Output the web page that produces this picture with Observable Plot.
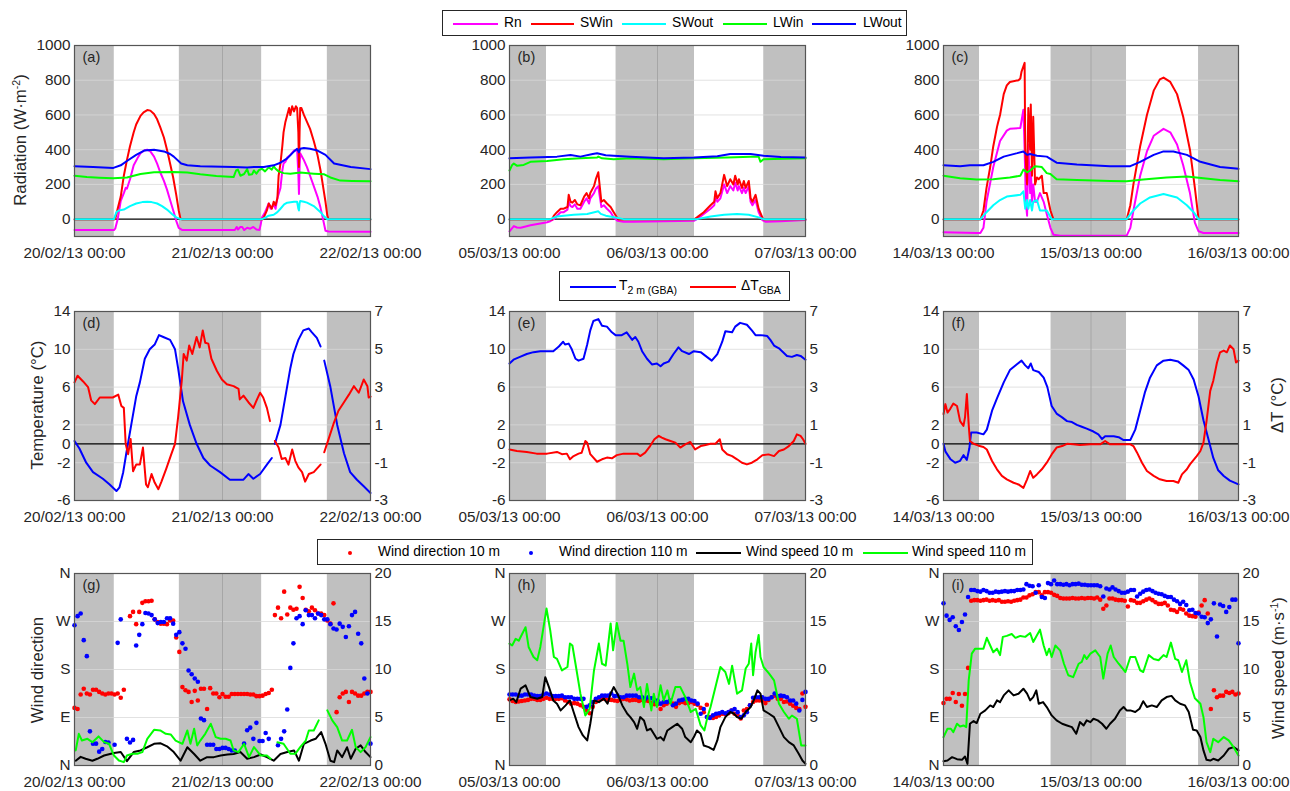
<!DOCTYPE html>
<html><head><meta charset="utf-8">
<script src="https://cdn.jsdelivr.net/npm/d3@7"></script>
<script src="https://cdn.jsdelivr.net/npm/@observablehq/plot@0.6"></script>
<style>
body{margin:0;background:#fff;font-family:"Liberation Sans",Arial,Helvetica,sans-serif;}
#wrap{position:relative;width:1290px;height:791px;overflow:hidden;background:#fff;}
.legend{position:absolute;border:1px solid #262626;background:#fff;box-sizing:border-box;font-size:13.8px;color:#000;}
.legend span{position:absolute;white-space:nowrap;line-height:1;}
.sw{position:absolute;height:2px;}
.dt{position:absolute;width:4px;height:4px;border-radius:50%;}
.ytitle{position:absolute;font-size:16.8px;line-height:1;color:#262626;white-space:nowrap;transform:translate(-50%,-50%) rotate(-90deg);}
sub{font-size:10.5px;vertical-align:-4px;line-height:0;}
sup{font-size:10.5px;vertical-align:6px;line-height:0;}
</style></head>
<body><div id="wrap"></div>
<script>
// ---------- tick labels / categories ----------
const dateLabels1 = ["20/02/13 00:00","21/02/13 00:00","22/02/13 00:00"];
const dateLabels2 = ["05/03/13 00:00","06/03/13 00:00","07/03/13 00:00"];
const dateLabels3 = ["14/03/13 00:00","15/03/13 00:00","16/03/13 00:00"];
const dirLabels = ["N","E","S","W","N"];
const radNames = ["Rn","SWin","SWout","LWin","LWout"];
const tempNames = ["T","ΔT"];
const windNames = ["Wind direction 10 m","Wind direction 110 m","Wind speed 10 m","Wind speed 110 m"];
// night periods (hours from start of each 48 h window)
const nights1 = [[0,6.45],[17.0,30.35],[41.0,48]];
const nights2 = [[0,6.0],[17.28,30.0],[41.23,48]];
const nights3 = [[0,5.86],[17.5,29.78],[41.5,48]];

// ---------- panel (a): radiation 20-22/02 [hour, W m-2] ----------
const a_Rn = [[0,-63],[6.4,-63],[6.6,-55],[7,0],[7.5,105],[8,150],[8.3,180],[8.5,175],[9,230],[9.6,310],[10.2,350],[10.7,380],[11.3,395],[11.8,400],[12.3,390],[12.9,360],[13.4,320],[13.9,270],[14.5,220],[15,170],[15.5,110],[16.1,40],[16.5,-10],[16.9,-50],[17.5,-63],[26,-63],[26.3,-45],[26.5,-60],[26.9,-45],[27.2,-45],[27.5,-63],[28,-50],[28.5,-55],[29,-45],[29.5,-60],[30,-62],[30.2,-30],[30.4,10],[30.9,40],[31.2,65],[31.5,90],[31.8,60],[32.3,85],[32.6,60],[32.9,120],[33.4,180],[33.7,280],[33.9,320],[34.2,330],[34.5,355],[35,370],[35.6,395],[36.1,400],[36.3,260],[36.4,145],[36.5,300],[36.6,380],[37.2,340],[37.7,300],[38.2,250],[38.8,190],[39.4,130],[39.9,65],[40.3,0],[40.7,-67],[41.2,-71],[48,-72]];
const a_SWin = [[0,-2],[6.4,-2],[6.6,0],[7,60],[7.5,130],[8,250],[8.5,340],[9,420],[9.6,500],[10,545],[10.7,595],[11.2,615],[11.8,628],[12.3,625],[12.9,605],[13.4,575],[13.9,530],[14.5,470],[15,400],[15.5,320],[16,240],[16.5,140],[16.9,50],[17.2,0],[17.5,-2],[30.4,-2],[30.7,10],[31.2,50],[31.5,90],[32,60],[32.3,100],[32.6,80],[32.9,120],[33.1,250],[33.4,320],[33.7,420],[33.9,500],[34.2,560],[34.5,600],[34.8,640],[35,600],[35.3,650],[35.6,620],[35.9,650],[36.1,640],[36.3,500],[36.4,300],[36.5,500],[36.6,640],[36.8,640],[37.2,600],[37.7,560],[38.2,520],[38.8,450],[39.4,370],[39.9,280],[40.3,190],[40.7,100],[41,20],[41.2,-2],[48,-2]];
const a_SWout = [[0,0],[6.4,0],[6.8,40],[7.2,50],[8,55],[9,75],[10,90],[11,98],[11.8,100],[12.5,98],[13.4,90],[14.2,75],[15,55],[15.8,30],[16.5,10],[17.2,0],[30.4,0],[31,10],[31.5,20],[32.3,25],[32.9,40],[33.4,60],[34,85],[34.5,95],[35.6,100],[36.1,100],[36.3,60],[36.4,50],[36.5,90],[36.6,105],[37.2,100],[37.7,95],[38.8,75],[39.9,40],[40.5,15],[41,0],[48,0]];
const a_LWin = [[0,250],[2,242],[4,238],[6.3,235],[8.5,240],[10.7,260],[12.9,270],[16,272],[18.3,268],[20.4,258],[23,248],[25.8,242],[26.2,280],[26.5,285],[26.9,250],[27.5,260],[28,288],[28.3,255],[28.8,258],[29.1,280],[29.5,262],[29.9,282],[30.4,290],[30.9,275],[31.5,298],[32,285],[32.3,305],[32.6,290],[33.1,275],[33.9,265],[35,262],[36.6,268],[38.8,262],[40.5,258],[41.5,240],[43.1,222],[45,220],[48,218]];
const a_LWout = [[0,305],[3,300],[6.3,295],[7.5,310],[8.5,335],[10,370],[11.3,395],[12.9,400],[14.5,390],[15.5,375],[16.1,360],[17.3,320],[18.3,310],[20.4,305],[25.8,300],[28,298],[29.1,300],[30.7,300],[32.3,310],[33.4,325],[34.5,350],[35.6,390],[36.1,405],[36.4,385],[36.6,405],[37.2,410],[38.2,405],[39.4,395],[40.7,370],[42.1,320],[44.8,300],[48,288]];

// ---------- panel (b): radiation 05-07/03 ----------
const b_Rn = [[0,-70],[0.7,-40],[1.2,-48],[1.8,-50],[2.3,-45],[3.4,-35],[5,-25],[6.1,-18],[6.6,-12],[7.2,0],[7.7,20],[8.3,40],[8.8,40],[9.4,55],[9.6,100],[9.9,75],[10.2,70],[10.6,85],[11,60],[11.5,60],[12.1,100],[12.5,120],[12.9,90],[13.1,120],[13.7,150],[14,175],[14.4,190],[14.6,140],[14.9,70],[15.3,80],[15.8,60],[16.4,40],[16.9,10],[17.5,-10],[18.5,-15],[20,-15],[25,-12],[29.9,-10],[30.4,0],[31.5,30],[32.6,60],[33.2,80],[33.4,130],[33.7,100],[34.2,120],[34.8,200],[35.3,150],[35.8,190],[36.3,165],[36.6,210],[37,165],[37.2,190],[37.7,150],[38,180],[38.3,150],[38.8,190],[39.1,100],[39.4,80],[39.9,110],[40.4,40],[41,-5],[41.5,-15],[44,-12],[48,-5]];
const b_SWin = [[0,-2],[6.9,-2],[7.2,20],[7.7,40],[8.3,60],[8.8,60],[9.4,70],[9.6,140],[9.9,100],[10.2,95],[10.6,110],[11,85],[11.5,80],[12.1,130],[12.5,150],[12.9,120],[13.1,150],[13.7,190],[14,230],[14.4,270],[14.6,200],[14.9,100],[15.3,110],[15.8,90],[16.4,70],[16.9,40],[17.5,5],[17.7,-2],[29.9,-2],[30.4,10],[31.5,40],[32.6,80],[33.2,100],[33.4,160],[33.7,120],[34.2,150],[34.8,255],[35.3,190],[35.8,230],[36.3,200],[36.6,250],[37,200],[37.2,230],[37.7,180],[38,220],[38.3,180],[38.8,220],[39.1,120],[39.4,100],[39.9,140],[40.4,60],[41,10],[41.2,-2],[48,-2]];
const b_SWout = [[0,0],[6.6,0],[7.7,15],[8.8,20],[10.4,25],[12.6,30],[14.4,45],[14.8,30],[15.6,20],[17.2,10],[18.5,0],[30.4,0],[32.6,15],[34.8,25],[36.9,30],[38.8,25],[40.4,10],[41.2,0],[48,0]];
const b_LWin = [[0,280],[0.4,310],[0.7,320],[1.2,308],[2.3,312],[3.4,330],[6.1,335],[8.8,345],[11.5,350],[14.2,355],[14.4,360],[15,350],[16.9,345],[19.6,350],[25,345],[29.9,350],[35.3,355],[39.1,360],[40.4,360],[40.7,330],[41.2,345],[48,350]];
const b_LWout = [[0,350],[3.4,355],[7.7,360],[9.9,370],[11.5,360],[13.5,375],[14.2,380],[15.6,368],[16.9,365],[19.6,360],[25,350],[29.9,355],[33.7,362],[35.8,375],[39.1,375],[41.2,365],[44,358],[48,355]];

// ---------- panel (c): radiation 14-16/03 ----------
const c_Rn = [[0,-75],[5.4,-80],[6,-80],[6.5,-50],[7,100],[8.1,300],[9.2,450],[10.3,510],[10.8,520],[12.5,525],[13,630],[13.2,400],[13.4,100],[13.6,20],[13.8,430],[14.1,150],[14.2,300],[14.4,100],[14.6,200],[14.9,100],[15.2,100],[15.7,150],[16.3,100],[16.8,30],[17.4,-50],[17.9,-90],[19,-95],[29.8,-95],[30.4,-50],[30.9,50],[32,250],[33.1,390],[34.2,480],[35.8,520],[36.9,500],[38,430],[39,310],[40.1,150],[40.9,-20],[41.5,-70],[42.3,-80],[48,-80]];
const c_SWin = [[0,-2],[6,-2],[6.5,50],[7,180],[7.6,300],[8.1,420],[8.7,530],[8.9,560],[9.2,600],[9.8,720],[10.3,770],[10.8,790],[12.2,800],[12.5,810],[12.7,850],[13,880],[13.2,900],[13.3,400],[13.6,200],[13.8,640],[14.1,400],[14.2,660],[14.4,250],[14.6,590],[14.9,200],[15.2,240],[15.5,230],[16,250],[16.3,150],[16.8,150],[17.4,50],[17.9,-2],[29.8,-2],[30.4,80],[30.9,200],[32,420],[33.1,600],[34.2,740],[35.2,805],[35.8,815],[36.9,790],[38,720],[39,590],[40.1,400],[40.9,180],[41.5,0],[41.8,-2],[48,-2]];
const c_SWout = [[0,0],[6,0],[7,40],[8.1,80],[9.2,110],[10.3,130],[12.5,140],[13,160],[13.3,60],[13.6,110],[13.8,60],[14.1,110],[14.4,50],[14.6,100],[15.2,110],[15.7,50],[16.8,50],[17.6,0],[29.8,0],[30.9,50],[32,90],[33.6,125],[35.8,145],[38,125],[39.6,80],[40.7,40],[41.5,0],[48,0]];
const c_LWin = [[0,250],[2.7,235],[5.4,228],[8.1,230],[10.8,240],[12.5,250],[13,285],[13.6,270],[14.1,280],[14.9,305],[16,300],[16.8,265],[17.4,260],[18.4,230],[21.7,225],[27.1,220],[29.8,218],[32.5,228],[36.3,240],[39.6,245],[42.3,235],[45,225],[48,218]];
const c_LWout = [[0,310],[2.7,305],[4.3,310],[6.5,310],[8.1,330],[9.8,360],[12,380],[13,390],[13.6,370],[14.1,375],[15.2,365],[16.8,360],[18.4,325],[21.7,315],[27.1,305],[30.4,305],[32,330],[34.2,370],[35.8,390],[37.4,390],[39.6,370],[41.8,330],[45,300],[48,290]];

// ---------- panels (d)-(f): T 2 m (°C) and ΔT (°C) ----------
const d_T = [[0,0.3],[0.8,-0.5],[1.9,-2],[3,-3],[4.6,-3.7],[5.7,-4.3],[6.8,-5],[7.3,-4.6],[7.9,-3],[8.4,-1],[9.2,2],[10,5],[10.6,6.5],[11.4,9],[12.2,10],[13,10.5],[13.7,11.5],[14.4,11.3],[15.5,11],[16.3,10],[16.8,8],[17.6,4.5],[18.7,2],[19.8,0],[20.9,-1.5],[22,-2.3],[23.6,-3],[25.2,-3.8],[26.3,-3.8],[27.4,-3.8],[28.2,-3.2],[29,-3.7],[30.1,-3.2],[31.2,-2.2],[32,-1.5],[32.2,null],[32.5,0],[33.4,2],[34.2,5],[35,8],[35.5,9.5],[36.3,11],[37.1,12],[38,12.2],[38.5,11.8],[39.3,11.2],[39.9,10.3],[40.2,null],[40.5,8.8],[41.5,6],[42.6,2],[43.7,-1],[44.7,-3],[45.8,-3.8],[46.9,-4.5],[48,-5.2]];
const d_dT = [[0,3.25],[0.5,3.6],[1.4,3.3],[2.2,3.0],[2.7,2.3],[3.3,2.1],[4.1,2.45],[5.2,2.45],[6.2,2.45],[7.1,2.6],[7.6,2.0],[8.0,1.9],[8.3,0],[8.7,-0.55],[9.1,0.25],[9.5,-1.45],[10,-1.1],[10.6,-1.1],[11.1,-0.2],[11.6,-2.15],[11.9,-2.3],[12.5,-1.6],[13,-2.05],[13.6,-2.4],[14.1,-2.0],[14.9,-1.3],[15.7,-0.55],[16.3,0],[16.8,1.4],[17.4,3.35],[17.7,4.75],[18.2,4.4],[18.6,5.2],[19.1,4.75],[19.8,5.65],[20.3,5.1],[20.8,6.0],[21.2,5.35],[21.7,5.3],[22.2,4.5],[23.1,3.85],[23.9,3.4],[24.7,3.15],[25.8,3.05],[26.6,2.9],[26.8,2.35],[27.4,2.55],[28.2,2.2],[29,1.9],[29.6,2.35],[30.1,2.7],[30.6,2.45],[31.2,1.9],[31.7,1.2],[32.1,null],[32.5,0.15],[33.1,-0.2],[33.6,-0.8],[34.2,-0.75],[34.7,-1.1],[35.3,-0.3],[35.8,-0.9],[36.3,-1.25],[36.9,-1.5],[37.4,-2.0],[38,-1.6],[38.8,-1.5],[39.9,-1.1],[40.2,null],[40.5,-0.45],[41.2,0.25],[42,1.05],[42.8,1.75],[43.7,2.2],[44.5,2.6],[45.3,3.05],[46.1,2.7],[46.9,3.4],[47.5,3.05],[47.7,2.45],[48,2.5]];
const e_T = [[0,8.5],[0.65,8.9],[1.7,9.2],[2.8,9.5],[3.9,9.7],[5,9.8],[7.1,9.8],[8,10.3],[8.7,10.8],[9,10.5],[9.6,10.6],[10.1,10],[10.7,9],[11.2,8.8],[12,9],[12.6,10.5],[13.1,12],[13.6,13],[14.4,13.2],[15,12.5],[15.8,12.4],[16.6,11.8],[17.2,11.5],[18.2,11.5],[19,11.8],[19.9,11],[20.4,11.3],[20.9,10.8],[21.5,9.8],[22.3,9],[23.1,8.4],[23.9,8.5],[24.5,8.2],[25,8.5],[25.8,8.7],[26.6,9.5],[27.4,10.2],[28,9.8],[29.1,9.5],[29.9,9.8],[31,9.7],[32,9.2],[32.8,8.8],[33.7,9.5],[34.5,10.8],[35,11.9],[36.1,11.8],[36.6,12.4],[37.4,12.8],[38.5,12.6],[39.3,12],[39.9,11.5],[40.7,11.5],[41.8,11.4],[42.3,11],[42.9,10.4],[43.7,10.1],[44.2,9.8],[45,9.3],[45.8,9.2],[46.6,9.4],[47.2,9.3],[48,8.9]];
const e_dT = [[0,-0.3],[1.2,-0.38],[2.8,-0.43],[4.4,-0.52],[6.1,-0.52],[7.7,-0.43],[8.5,-0.55],[9.3,-0.52],[9.8,-0.82],[10.4,-0.65],[11.2,-0.52],[11.7,-0.47],[12.3,0.15],[12.6,0.06],[13.1,-0.55],[14.2,-0.95],[15,-0.82],[15.8,-0.73],[16.6,-0.77],[17.4,-0.6],[18.5,-0.52],[19.6,-0.52],[20.7,-0.52],[21.2,-0.65],[22,-0.47],[22.8,-0.12],[23.5,0.24],[24.2,0.42],[24.7,0.33],[25.3,0.24],[26.1,0.15],[26.9,0.06],[27.7,-0.2],[28.5,-0.03],[29.3,0.1],[30.1,-0.3],[31,-0.12],[31.8,-0.06],[32.6,0],[33.4,0],[34.1,0.24],[34.5,-0.3],[35.3,-0.55],[36.1,-0.65],[36.9,-0.82],[37.7,-1.0],[38.5,-1.09],[39.3,-1.0],[40.2,-0.82],[41,-0.61],[42,-0.56],[42.9,-0.65],[43.7,-0.38],[44.5,-0.3],[45.3,-0.12],[46.1,0.15],[46.6,0.5],[47.2,0.42],[47.6,0.24],[48,0]];
const f_T = [[0,0],[0.3,-0.8],[1.1,-1.6],[1.9,-2],[2.7,-1.8],[3.25,-1.2],[3.8,-1.7],[4.2,-0.5],[4.5,1.2],[5.4,1.2],[6.5,1.0],[7.05,1.5],[7.9,3.5],[8.7,4.8],[9.8,6.5],[10.8,7.8],[11.9,8.4],[12.7,8.8],[13.3,8.3],[13.8,8.0],[14.2,8.5],[14.6,7.8],[15.5,7.6],[16.3,7.0],[16.9,6.0],[17.6,4.0],[18.4,3.2],[19.3,2.8],[20.1,2.4],[20.9,2.3],[21.7,2.0],[22.5,1.8],[23.3,1.6],[24.4,1.3],[25.2,1.0],[25.8,0.5],[26.3,0.8],[27.7,0.8],[28.5,0.7],[29.3,0.4],[30.4,0.4],[31.2,1.5],[32,3.5],[32.8,5.5],[33.6,7.0],[34.7,8.3],[35.8,8.8],[36.9,8.9],[38.2,8.7],[39,8.3],[39.9,7.8],[40.7,6.8],[41.5,5.0],[42.3,2.5],[43.1,0.5],[43.9,-1.5],[44.7,-2.8],[45.6,-3.4],[46.6,-3.9],[48,-4.3]];
const f_dT = [[0,1.57],[0.3,2.1],[0.65,1.65],[1.1,1.85],[1.6,2.13],[2.2,2.0],[2.7,1.2],[3.25,0.95],[3.5,1.4],[3.8,2.63],[4.1,1.0],[4.3,0.15],[4.9,0],[5.7,-0.1],[6.5,-0.17],[7.05,-0.3],[7.9,-0.91],[8.7,-1.35],[9.5,-1.7],[10.3,-1.88],[11.4,-2.06],[12.2,-2.15],[13,-2.33],[13.6,-1.88],[14.1,-1.44],[14.6,-1.8],[15.2,-1.62],[16,-1.35],[16.8,-1.0],[17.6,-0.56],[18.4,-0.2],[19.3,-0.12],[20.1,0],[21.1,-0.03],[22.2,-0.06],[23.9,-0.03],[25.5,-0.03],[26.3,0.15],[27.1,-0.03],[28.7,-0.03],[30.4,-0.03],[30.9,-0.12],[31.5,-0.47],[32.3,-1.0],[33.1,-1.44],[34.2,-1.7],[35.2,-1.88],[36.3,-1.97],[37.4,-1.97],[38.2,-2.06],[38.8,-1.62],[39.6,-1.35],[40.1,-1.09],[41.2,-0.65],[41.8,-0.38],[42.3,0.06],[42.8,1.2],[43.4,2.8],[43.9,3.34],[44.5,4.3],[45,4.84],[45.6,4.93],[46.1,4.84],[46.6,5.2],[47.2,5.0],[47.6,4.3],[48,4.4]];

// ---------- panels (g)-(i): wind direction (deg, every 30 min) ----------
const g_dir10 = [108,106,133,144,135,133,142,142,138,135, 133,135,135,133,135,127,142,null,280,288, 265,288,305,308,308,309,274,269,266,266, 265,272,272,240,213,147,141,138,119,140, 122,144,144,106,145,135,135,128,134,129, 129,134,134,134,134,134,134,133,133,130, 130,131,134,136,142,282,296,276,326,283, 296,292,294,335,314,292,289,296,291,285, 285,282,272,266,304,100,128,135,138,119, 138,135,131,131,135,138,138];
const g_dir110 = [263,280,285,235,205,64,41,41,26,31, 44,43,null,39,230,274,null,50,43,48, 225,245,265,286,285,282,274,267,269,269, 276,276,266,245,250,229,219,178,171,163, 157,88,85,39,39,39,31,31,33,33, 31,28,28,null,null,41,66,71,50,80, 46,46,61,50,null,null,38,50,64,105, 183,229,276,280,265,291,282,282,276,285, 282,274,274,265,257,255,266,260,241,261, 282,288,247,229,163,135,41];
const h_dir10 = [124,121,119,120,121,122,123,125,125,123, 123,125,127,125,125,125,125,126,122,119, 116,117,116,113,110,103,98,110,119,124, 125,125,123,123,122,121,123,125,124,122, 123,123,121,123,122,121,117,115,115,106, 113,116,119,116,110,117,119,117,117,119, 116,114,108,100,114,91,89,91,94,97, 96,98,103,97,94,88,103,106,113,119, 122,122,122,117,123,128,131,125,125,119, 120,116,112,108,106,135,110];
const h_dir110 = [133,133,133,131,131,133,133,133,131,130, 130,133,135,133,130,130,130,131,128,128, 128,125,125,125,125,110,113,119,125,128, 131,131,131,135,130,131,128,128,131,131, 131,131,128,128,125,128,126,122,122,116, 119,119,122,113,116,122,123,125,125,122, 121,116,97,106,91,89,94,97,98,100, 98,100,103,106,100,91,94,100,113,127, 128,128,128,125,125,128,135,130,131,130, 128,122,122,116,103,123,138];
const i_dir10 = [117,125,125,136,119,134,112,134,183,309, 310,310,309,310,311,309,310,309,310,307, 307,308,307,309,310,311,315,315,319,321, 325,325,319,325,325,324,320,318,314,313, 313,313,314,313,313,314,313,314,314,313, 315,311,294,300,313,313,311,310,310,309, 298,310,309,305,305,308,311,313,310,306, 303,303,305,300,292,291,288,294,292,285, 281,280,279,287,300,310,285,106,141,128, 131,131,138,136,138,133,135];
const i_dir110 = [304,281,273,278,261,254,269,283,316,329, 329,327,326,329,327,324,324,326,325,326, 327,326,327,327,329,329,330,340,337,336, 324,338,316,314,342,340,347,340,340,339, 340,338,340,340,341,339,339,338,338,338, 338,336,317,332,330,334,330,327,324,324, 326,329,329,317,322,326,329,330,327,324, 322,321,318,316,316,311,308,303,307,301, 291,292,286,285,279,278,267,274,304,242, 302,299,288,297,311,311,229];

// ---------- wind speed (m/s) [hour, value] ----------
const g_ws10 = [[0.2,0.5],[1,0.9],[1.8,0.7],[2.9,0.5],[3.7,0.7],[4.8,1.04],[6.4,1.3],[7.5,1.4],[8.5,0.45],[9.6,1.4],[10.7,1.57],[11.8,1.9],[12.9,2.26],[13.9,2.33],[15,2.0],[16.1,1.4],[17.2,0.5],[18.3,1.9],[19.4,1.2],[20.4,0.5],[21.5,0.87],[22.6,0.87],[23.7,1.04],[24.8,1.15],[25.8,1.2],[26.9,1.4],[28,0.7],[29.1,0.87],[30.2,1.15],[31.2,0.87],[32.3,0.5],[33.4,1.2],[34.5,1.4],[35.6,1.57],[36.4,0.5],[37.2,2.26],[38.3,2.6],[39.1,2.78],[40,3.48],[40.7,2.26],[41.5,0.5],[42.1,0.35],[42.6,1.57],[43.4,0.87],[44.2,1.9],[44.8,0.7],[45.6,1.74],[46.4,2.1],[47.2,1.4],[48,0.87]];
const g_ws110 = [[0.2,1.57],[0.7,3.3],[1.2,2.6],[2.1,2.78],[2.9,2.43],[3.9,3.03],[4.8,2.43],[5.6,2.26],[6.4,1.04],[7.2,0.52],[8,0.35],[8.5,1.04],[9.4,1.22],[10.2,1.22],[11,1.39],[11.8,2.78],[12.9,3.72],[13.9,3.65],[14.8,3.3],[15.6,3.23],[16.4,2.6],[17.5,2.26],[18.3,3.65],[18.8,2.26],[19.4,3.83],[19.9,2.09],[20.4,2.6],[21.2,3.3],[22.1,4.35],[22.9,2.96],[23.7,2.78],[24.5,2.78],[25.3,2.6],[25.8,1.57],[26.6,1.39],[27.5,2.26],[28.3,0.87],[29.1,1.91],[30.2,1.04],[31.2,1.04],[31.8,0.7],[32.3,null],[32.9,2.43],[33.9,2.26],[35,1.22],[35.8,1.22],[36.6,1.91],[37.5,2.6],[38,3.65],[38.8,3.65],[39.6,4.7],[40.2,null],[41,5.74],[41.8,4.7],[42.6,4.0],[43.4,2.6],[44.2,2.6],[45,3.72],[45.6,1.91],[46.4,1.39],[47.2,1.91],[48,2.96]];
const h_ws10 = [[0,6.78],[0.6,6.96],[1.1,6.6],[1.8,8.0],[2.6,8.35],[3.4,7.13],[4.5,6.96],[5.3,7.13],[5.8,9.2],[6.4,8.17],[7.1,6.78],[7.7,6.43],[8.3,5.74],[9.1,6.26],[9.8,6.78],[10.4,5.57],[11.2,4.0],[11.9,3.13],[12.6,2.61],[13.1,4.35],[13.7,6.78],[14.5,6.6],[15.3,6.96],[15.9,6.43],[16.4,7.48],[16.9,8.17],[17.5,7.48],[18.3,6.26],[19.1,5.39],[19.6,5.04],[20.2,4.52],[20.7,3.83],[21.2,5.04],[21.8,4.7],[22.3,3.65],[22.9,3.83],[23.4,3.3],[23.9,2.78],[24.5,2.96],[25,2.61],[25.6,3.65],[26.4,4.0],[27.2,4.35],[28,3.83],[28.5,2.96],[29.4,2.43],[29.9,2.96],[30.4,3.65],[31,3.3],[31.5,2.09],[32.3,1.91],[33.1,1.63],[33.7,2.61],[34.2,4.0],[35,5.04],[35.8,5.57],[36.4,5.39],[36.9,5.04],[37.6,4.87],[38.3,5.57],[39.1,6.09],[39.6,6.78],[40.2,7.83],[40.7,7.48],[41.2,5.74],[42.1,5.39],[42.9,5.04],[43.7,4.0],[44.5,2.96],[45.3,2.43],[46.1,2.09],[46.9,1.22],[47.5,0.52],[48,0.17]];
const h_ws110 = [[0,12.7],[0.43,12.5],[1,13.2],[1.5,13.0],[2.6,14.4],[3.1,12.35],[3.9,11.3],[4.5,10.96],[5,12.35],[6,16.35],[6.6,14.1],[7.2,11.3],[7.7,11.1],[8.5,9.9],[9.4,10.26],[9.8,12.7],[10.2,12.5],[10.7,10.6],[11.5,7.48],[12.3,5.2],[13,5.9],[13.7,9.9],[14.5,12.7],[15,10.6],[15.6,10.4],[16.4,14.8],[16.8,12.0],[17.4,14.85],[18,13.0],[18.5,13.0],[19.1,10.6],[19.6,8.17],[20.2,9.57],[20.7,7.83],[21.2,8.17],[21.8,6.09],[22.3,8.5],[23,5.74],[23.4,7.48],[23.9,6.09],[24.5,8.35],[25,6.78],[25.6,7.83],[26.1,6.43],[26.9,8.17],[27.7,8.17],[28.5,7.13],[29.4,5.57],[30.2,5.9],[31,4.17],[31.6,3.65],[32.1,5.04],[32.6,6.09],[33.4,8.17],[34.2,10.26],[35,9.74],[35.6,8.5],[36.1,10.4],[36.9,7.48],[37.7,7.83],[38.3,10.1],[38.8,10.6],[39.2,12.7],[39.5,9.4],[39.9,11.8],[40.4,13.6],[40.7,11.3],[41.2,10.26],[42.1,9.57],[42.9,8.87],[43.7,6.43],[44.5,5.57],[45.3,4.87],[45.8,5.2],[46.6,4.87],[47.3,2.09],[48,2.09]];
const i_ws10 = [[0,0.45],[0.65,0.52],[1.4,0.87],[2.2,0.66],[3,0.59],[3.5,0.94],[3.9,0.17],[4.3,4.35],[4.9,4.63],[5.4,4.42],[6,5.39],[6.8,5.74],[7.6,6.26],[8.1,6.09],[8.7,6.78],[9.2,6.6],[9.8,7.3],[10.6,7.83],[11.4,7.3],[12.2,7.48],[13,8.0],[13.6,7.48],[14.1,6.78],[14.6,7.13],[15.1,7.83],[15.5,6.43],[16.2,6.6],[16.8,6.09],[17.6,5.22],[18.4,4.7],[19.3,4.35],[20.1,4.17],[20.9,4.0],[21.6,3.3],[22.2,4.52],[22.8,4.17],[23.3,4.7],[23.9,4.52],[24.4,4.87],[25.1,4.7],[25.8,4.35],[26.5,3.83],[27.1,4.35],[27.9,4.87],[28.7,5.74],[29.3,6.09],[29.8,5.74],[30.4,5.74],[31.2,5.57],[31.9,5.91],[32.5,6.7],[33.1,6.09],[33.9,6.26],[34.7,6.09],[35.5,6.78],[36.3,7.13],[37.1,7.25],[37.7,6.78],[38.5,6.43],[39.3,6.26],[39.9,5.57],[40.6,3.72],[41.2,3.65],[41.8,2.96],[42.3,1.57],[42.8,0.59],[43.4,0.52],[43.9,0.7],[44.7,0.52],[45.6,1.04],[46.4,1.74],[47.2,1.91],[48,1.57]];
const i_ws110 = [[0,2.96],[0.65,3.83],[1.2,3.83],[1.6,3.48],[2.2,4.35],[2.7,4.07],[3.25,4.17],[3.7,4.0],[4.1,8.87],[4.6,11.65],[5.15,12.17],[6,12.17],[6.5,12.17],[7.05,13.3],[7.6,12.5],[8.1,11.8],[8.7,12.17],[9.2,11.5],[9.65,13.4],[10.3,13.5],[11.1,13.7],[11.7,13.3],[12.5,13.5],[13.3,13.4],[14.1,13.8],[14.6,12.87],[15.7,14.15],[16.3,12.5],[16.8,11.5],[17.2,12.17],[17.6,11.3],[18.2,12.5],[19,11.96],[19.6,10.6],[20.3,9.4],[21.1,9.2],[22,10.6],[22.5,10.8],[22.9,11.5],[23.3,11.1],[23.9,11.65],[24.7,12.0],[25.5,11.3],[26,9.05],[26.7,11.65],[27.2,12.5],[27.7,11.3],[28.5,10.6],[29.6,9.74],[30.4,11.3],[31.2,11.3],[32,9.91],[32.5,9.74],[33.4,11.5],[34.2,11.1],[35,10.96],[35.8,11.5],[36.3,11.3],[37,12.8],[37.7,11.1],[38.2,10.96],[38.8,9.74],[39.5,10.96],[40.1,8.7],[40.9,7.0],[41.8,6.43],[42.3,5.04],[42.8,2.43],[43.4,1.39],[43.9,2.78],[44.7,2.43],[45.6,2.96],[46.4,2.61],[47.2,1.91],[48,1.04]];

// ---------- styles & layout ----------
const C = {Rn:"#ff00ff",SWin:"#ff0000",SWout:"#00ffff",LWin:"#00ff00",LWout:"#0000ff"};
const COLS = [{x0:74,x1:370},{x0:509,x1:805},{x0:943,x1:1238}];
const ROWS = [{y0:45,y1:236},{y0:311,y1:500},{y0:573,y1:765}];
const ML=80, MR=70, MT=10, MB=40;
const FONT = "'Liberation Sans', Arial, Helvetica, sans-serif";
const TXT = "#262626";
const wrap = document.getElementById("wrap");

const ROWCFG = [
  {domain:[-100,1000], left:[0,200,400,600,800,1000], grid:[200,400,600,800], zero:true},
  {domain:[-6,14], left:[-6,-2,0,2,6,10,14], grid:[-2,2,6,10], zero:true, right:[-6,-2,2,6,10,14], rfmt:d=>String(d/2)},
  {domain:[0,360], left:[0,90,180,270,360], lfmt:d=>dirLabels[d/90], grid:[90,180,270], zero:false, right:[0,90,180,270,360], rfmt:d=>String(d/18)}
];

const half = arr => arr.map((v,i)=>[i/2, v]).filter(d=>d[1]!=null);
const ln = (data, color, k=1) => Plot.line(data, {x:d=>d[0], y:d=>d[1]==null?null:d[1]*k, stroke:color, strokeWidth:2, curve:"linear"});
const dt = (data, color) => Plot.dot(half(data), {x:d=>d[0], y:d=>d[1], r:2.3, fill:color, stroke:"none"});

function panel(col, row, tag, nights, labels, dataMarks){
  const c = COLS[col], r = ROWS[row], cfg = ROWCFG[row];
  const w = c.x1-c.x0, h = r.y1-r.y0;
  const marks = [
    Plot.rect(nights, {x1:d=>d[0], x2:d=>d[1], y1:()=>cfg.domain[0], y2:()=>cfg.domain[1], fill:"#c0c0c0"}),
    Plot.gridY(cfg.grid, {stroke:"#d8d8d8", strokeOpacity:0.75, strokeWidth:1}),
    Plot.gridX([24], {stroke:"#a6a6a6", strokeOpacity:1, strokeWidth:1}),
  ];
  if (cfg.zero) marks.push(Plot.ruleY([0], {stroke:"#000", strokeWidth:1.2}));
  marks.push(...dataMarks);
  marks.push(Plot.frame({stroke:"#555", strokeWidth:1.2}));
  marks.push(Plot.text([tag], {text:d=>d, frameAnchor:"top-left", dx:8, dy:6, textAnchor:"start", lineAnchor:"top", fontSize:14.5, fill:TXT}));
  marks.push(Plot.axisX({ticks:[0,24,48], tickFormat:d=>labels[d/24], tickSize:0, tickPadding:11, fontSize:15.3, color:TXT}));
  marks.push(Plot.axisY({anchor:"left", ticks:cfg.left, tickFormat:cfg.lfmt||(d=>String(d)), tickSize:0, tickPadding:4, fontSize:15.3, color:TXT, label:null}));
  if (cfg.right) marks.push(Plot.axisY({anchor:"right", ticks:cfg.right, tickFormat:cfg.rfmt, tickSize:0, tickPadding:4, fontSize:15.3, color:TXT, label:null}));
  const svg = Plot.plot({
    width:w+ML+MR, height:h+MT+MB,
    marginLeft:ML, marginRight:MR, marginTop:MT, marginBottom:MB,
    style:{background:"transparent", overflow:"visible", fontFamily:FONT, color:TXT},
    x:{domain:[0,48]}, y:{domain:cfg.domain},
    marks
  });
  svg.style.position="absolute";
  svg.style.left=(c.x0-ML)+"px";
  svg.style.top=(r.y0-MT)+"px";
  svg.style.maxWidth="none";
  wrap.appendChild(svg);
}

const radLines = (Rn,SWin,SWout,LWin,LWout) => [ln(Rn,C.Rn),ln(SWin,C.SWin),ln(SWout,C.SWout),ln(LWin,C.LWin),ln(LWout,C.LWout)];
panel(0,0,"(a)",nights1,dateLabels1,radLines(a_Rn,a_SWin,a_SWout,a_LWin,a_LWout));
panel(1,0,"(b)",nights2,dateLabels2,radLines(b_Rn,b_SWin,b_SWout,b_LWin,b_LWout));
panel(2,0,"(c)",nights3,dateLabels3,radLines(c_Rn,c_SWin,c_SWout,c_LWin,c_LWout));
panel(0,1,"(d)",nights1,dateLabels1,[ln(d_T,"#0000ff"),ln(d_dT,"#ff0000",2)]);
panel(1,1,"(e)",nights2,dateLabels2,[ln(e_T,"#0000ff"),ln(e_dT,"#ff0000",2)]);
panel(2,1,"(f)",nights3,dateLabels3,[ln(f_T,"#0000ff"),ln(f_dT,"#ff0000",2)]);
const windMarks = (d10,d110,s10,s110) => [dt(d10,"#ff0000"),dt(d110,"#0000ff"),ln(s10,"#000000",18),ln(s110,"#00ff00",18)];
panel(0,2,"(g)",nights1,dateLabels1,windMarks(g_dir10,g_dir110,g_ws10,g_ws110));
panel(1,2,"(h)",nights2,dateLabels2,windMarks(h_dir10,h_dir110,h_ws10,h_ws110));
panel(2,2,"(i)",nights3,dateLabels3,windMarks(i_dir10,i_dir110,i_ws10,i_ws110));

// ---------- axis titles ----------
function ytitle(html, cx, cy){
  const d=document.createElement("div"); d.className="ytitle"; d.innerHTML=html;
  d.style.left=cx+"px"; d.style.top=cy+"px"; wrap.appendChild(d);
}
ytitle("Radiation (W·m<sup>-2</sup>)", 21, 140);
ytitle("Temperature (°C)", 38, 405);
ytitle("ΔT (°C)", 1278, 405);
ytitle("Wind direction", 38, 670);
ytitle("Wind speed (m·s<sup>-1</sup>)", 1279, 668);

// ---------- legends ----------
function legend(x, y, w, h, items){
  const L=document.createElement("div"); L.className="legend";
  Object.assign(L.style,{left:x+"px",top:y+"px",width:w+"px",height:h+"px"});
  const cy=h/2-1;
  items.forEach(it=>{
    if (it.kind==="line"){
      const s=document.createElement("div"); s.className="sw";
      Object.assign(s.style,{left:it.x0+"px",width:(it.x1-it.x0)+"px",top:(cy-0.5)+"px",background:it.color});
      L.appendChild(s);
    } else {
      const s=document.createElement("div"); s.className="dt";
      Object.assign(s.style,{left:(it.x0-2)+"px",top:(cy-1.5)+"px",background:it.color});
      L.appendChild(s);
    }
    const t=document.createElement("span"); t.innerHTML=it.text;
    Object.assign(t.style,{left:it.tx+"px",top:(cy-7)+"px"});
    L.appendChild(t);
  });
  wrap.appendChild(L);
}
const radColors=[C.Rn,C.SWin,C.SWout,C.LWin,C.LWout];
const radX=[[10,55,61],[88,131,137],[179,223,229],[280,324,330],[369,413,420]];
legend(442,10,465,26, radNames.map((n,i)=>({kind:"line",x0:radX[i][0],x1:radX[i][1],tx:radX[i][2],color:radColors[i],text:n})));
legend(559,271,231,30,[
  {kind:"line",x0:10,x1:56,tx:59,color:"#0000ff",text:tempNames[0]+"<sub>2 m (GBA)</sub>"},
  {kind:"line",x0:130,x1:176,tx:181,color:"#ff0000",text:tempNames[1]+"<sub>GBA</sub>"}
]);
legend(317,539,716,26,[
  {kind:"dot",x0:32,tx:60,color:"#ff0000",text:windNames[0]},
  {kind:"dot",x0:213,tx:241,color:"#0000ff",text:windNames[1]},
  {kind:"line",x0:378,x1:423,tx:428,color:"#000000",text:windNames[2]},
  {kind:"line",x0:545,x1:590,tx:594,color:"#00ff00",text:windNames[3]}
]);
</script>
</body></html>
